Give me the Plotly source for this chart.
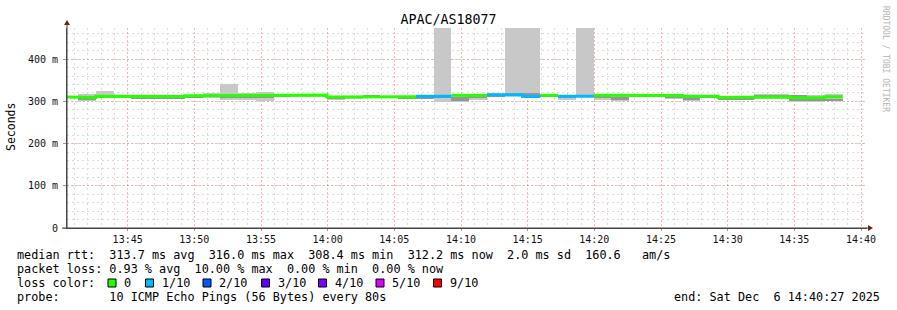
import plotly.graph_objects as go
import pandas as pd

# ---------------- data ----------------
first_step = "2025-12-06 13:39:57"
step_seconds = 80
view_start = "2025-12-06 13:40:27"
view_end = "2025-12-06 14:40:27"

median_ms = [311, 309.5, 312, 312.5, 312, 312, 311.5, 313.5, 313.5, 314, 314, 314, 314.5, 315,
             315, 310.5, 311, 312, 312, 311, 312, 312, 314.5, 314, 316, 315, 311.5, 314.5,
             312, 312, 314.5, 314.5, 314.5, 314.5, 314, 312.5, 312.5, 309.5, 309.5, 311, 311,
             308.5, 308.5, 311]
loss_count = [0, 0, 0, 0, 0, 0, 0, 0, 0, 0, 0, 0, 0, 0,
              0, 0, 0, 0, 0, 0, 1, 1, 0, 0, 1, 1, 1, 0,
              1, 1, 0, 0, 0, 0, 0, 0, 0, 0, 0, 0, 0,
              0, 0, 0]
smoke_min = [309, 302, 309, 310, 305, 305, 306, 308, 309, 304, 304, 300, 310, 311,
             311, 304, 305, 310, 309, 305, 305, 299, 299, 304, 310, 315, 313, 311,
             304, 310, 304, 301, 311, 311, 305, 300, 309, 303, 303, 306, 306,
             298, 298, 302]
smoke_max = [313, 318, 324, 314, 314, 314, 313, 315, 321, 342, 319, 323, 316, 316,
             316, 313, 314, 314, 313, 314, 314, 1000, 316, 316, 320, 1000, 1000, 317,
             314, 1000, 316, 314, 316, 316, 316, 314, 314, 312, 312, 317, 317,
             316, 315, 317]
smoke_lo = [310, 305, 311, 311, 308, 308, 308, 310, 312, 309, 309, 308, 312, 313,
            313, 307, 309, 311, 310, 308, 308, 307, 302, 308, 312, 315, 313, 312,
            307, 311, 307, 304, 312, 312, 307, 304, 310, 305, 305, 312, 312,
            302, 302, 300]
smoke_hi = [312, 309, 314, 313, 310, 310, 310, 313, 315, 316, 314, 316, 315, 315,
            315, 311, 311, 313, 312, 311, 311, 313, 310, 313, 316, 320, 320, 315,
            312, 314, 312, 310, 315, 315, 312, 310, 313, 309, 309, 316, 316,
            316, 308, 305]

loss_labels = ["0", "1/10", "2/10", "3/10", "4/10", "5/10", "9/10"]
loss_levels = [0, 1, 2, 3, 4, 5, 9]
loss_colors = ["#26ff00", "#00b8ff", "#0059ff", "#5e00ff", "#7e00ff", "#dd00ff", "#ff0000"]

y_tickvals = [0, 100, 200, 300, 400]
y_ticktext = ["0", "100 m", "200 m", "300 m", "400 m"]

title_text = "APAC/AS18077"
legend_rows = [
    "median rtt:  313.7 ms avg  316.0 ms max  308.4 ms min  312.2 ms now  2.0 ms sd  160.6   am/s",
    "packet loss: 0.93 % avg  10.00 % max  0.00 % min  0.00 % now",
    "loss color:",
    "probe:       10 ICMP Echo Pings (56 Bytes) every 80s",
]
end_text = "end: Sat Dec  6 14:40:27 2025"

# ---------------- geometry helpers ----------------
W, H = 897, 310
L, R, T, B = 67, 30, 28, 82
PW, PH = W - L - R, H - T - B


def px(x):
    return (x - L) / PW


def py(y):
    return (H - B - y) / PH


def nb(s):
    return s.replace(" ", "\u00a0")


MONO = "DejaVu Sans Mono"

n = len(median_ms)
t0 = pd.Timestamp(first_step)
starts = [t0 + pd.Timedelta(seconds=step_seconds * k) for k in range(n)]
ends = [s + pd.Timedelta(seconds=step_seconds) for s in starts]
centers = [s + pd.Timedelta(seconds=step_seconds / 2) for s in starts]

fig = go.Figure()

# smoke (outer band)
fig.add_trace(go.Bar(
    x=centers, base=smoke_min, y=[mx - mn for mn, mx in zip(smoke_min, smoke_max)],
    width=step_seconds * 1000, marker=dict(color="#c8c8c8", line=dict(width=0)),
    hoverinfo="skip", showlegend=False))
# smoke (inner band)
fig.add_trace(go.Bar(
    x=centers, base=smoke_lo, y=[hi - lo for lo, hi in zip(smoke_lo, smoke_hi)],
    width=step_seconds * 1000, marker=dict(color="#959595", line=dict(width=0)),
    hoverinfo="skip", showlegend=False))

# median lines, coloured by loss
for lvl, col in zip(loss_levels, loss_colors):
    xs, ys = [], []
    for k in range(n):
        if loss_count[k] == lvl:
            xs += [starts[k], ends[k]]
            ys += [median_ms[k], median_ms[k]]
            if k + 1 >= n or loss_count[k + 1] != lvl:
                xs.append(None)
                ys.append(None)
    if xs:
        fig.add_trace(go.Scatter(x=xs, y=ys, mode="lines",
                                 line=dict(color=col, width=3),
                                 hoverinfo="skip", showlegend=False))

fig.update_layout(
    width=W, height=H,
    margin=dict(l=L, r=R, t=T, b=B, pad=0),
    paper_bgcolor="white", plot_bgcolor="white",
    barmode="overlay", bargap=0,
    font=dict(family=MONO, size=10, color="#000"),
    title=dict(text=title_text, xref="container", x=0.5, xanchor="center",
               yref="container", y=1 - 19 / H, yanchor="middle",
               font=dict(family=MONO, size=13.3, color="#000")),
    xaxis=dict(
        type="date", range=[view_start, view_end],
        tick0="2025-12-06 13:45:00", dtick=300000, tickformat="%H:%M",
        showgrid=True, gridcolor="rgba(255,0,0,0.3)", griddash="2px,2px", gridwidth=1,
        minor=dict(dtick=60000, tick0="2025-12-06 13:41:00", showgrid=True,
                   gridcolor="#dcdcdc", griddash="2px,3px", ticks=""),
        showline=True, linecolor="#444", linewidth=1,
        ticks="outside", ticklen=2, tickcolor="#999",
        tickfont=dict(family=MONO, size=10, color="#111"),
        zeroline=False, fixedrange=True,
    ),
    yaxis=dict(
        range=[0, 474], tickvals=y_tickvals, ticktext=y_ticktext,
        showgrid=True, gridcolor="rgba(200,100,100,0.4)", griddash="2px,2px",
        minor=dict(dtick=20, tick0=0, showgrid=True, gridcolor="#dcdcdc",
                   griddash="2px,3px", ticks=""),
        showline=True, linecolor="#444", linewidth=1,
        ticks="outside", ticklen=3, tickcolor="#999", ticklabelstandoff=3,
        tickfont=dict(family=MONO, size=10, color="#111"),
        zeroline=False, fixedrange=True,
    ),
)

annotations = []
shapes = []

# axis arrows / extensions
shapes.append(dict(type="line", xref="paper", yref="paper", x0=px(67), x1=px(67),
                   y0=py(228), y1=py(24), line=dict(color="#444", width=1)))
shapes.append(dict(type="line", xref="paper", yref="paper", x0=px(62), x1=px(868),
                   y0=py(228), y1=py(228), line=dict(color="#444", width=1)))
shapes.append(dict(type="path", xref="paper", yref="paper",
                   path=f"M {px(64)} {py(25)} L {px(70)} {py(25)} L {px(67)} {py(20)} Z",
                   fillcolor="#7a1a1a", line=dict(width=0)))
shapes.append(dict(type="path", xref="paper", yref="paper",
                   path=f"M {px(868)} {py(225)} L {px(868)} {py(231)} L {px(873)} {py(228)} Z",
                   fillcolor="#7a1a1a", line=dict(width=0)))

# y-axis title
annotations.append(dict(text="Seconds", xref="paper", yref="paper", x=px(11), y=py(127),
                        textangle=-90, showarrow=False, xanchor="center", yanchor="middle",
                        font=dict(family=MONO, size=11.5, color="#000")))
# rrdtool watermark
annotations.append(dict(text=nb("RRDTOOL / TOBI OETIKER"), xref="paper", yref="paper",
                        x=px(886), y=py(59), textangle=90, showarrow=False,
                        xanchor="center", yanchor="middle",
                        font=dict(family=MONO, size=8, color="#b4b4b4")))

row_y = [255, 268.5, 283, 297]
for txt, yy in zip(legend_rows, row_y):
    annotations.append(dict(text=nb(txt), xref="paper", yref="paper", x=px(15), y=py(yy),
                            showarrow=False, xanchor="left", yanchor="middle",
                            font=dict(family=MONO, size=11.8, color="#000")))
annotations.append(dict(text=nb(end_text), xref="paper", yref="paper", x=px(882), y=py(297),
                        showarrow=False, xanchor="right", yanchor="middle",
                        font=dict(family=MONO, size=11.8, color="#000")))

square_x = [108, 145.5, 203, 261.5, 318.5, 376, 433.5]
for sx, lab, col in zip(square_x, loss_labels, loss_colors):
    shapes.append(dict(type="rect", xref="paper", yref="paper",
                       x0=px(sx), x1=px(sx + 8), y0=py(287), y1=py(279),
                       fillcolor=col, line=dict(color="#000", width=1)))
    annotations.append(dict(text=lab, xref="paper", yref="paper", x=px(sx + 14), y=py(283),
                            showarrow=False, xanchor="left", yanchor="middle",
                            font=dict(family=MONO, size=11.8, color="#000")))

fig.update_layout(annotations=annotations, shapes=shapes)

fig.write_html("out.html")
